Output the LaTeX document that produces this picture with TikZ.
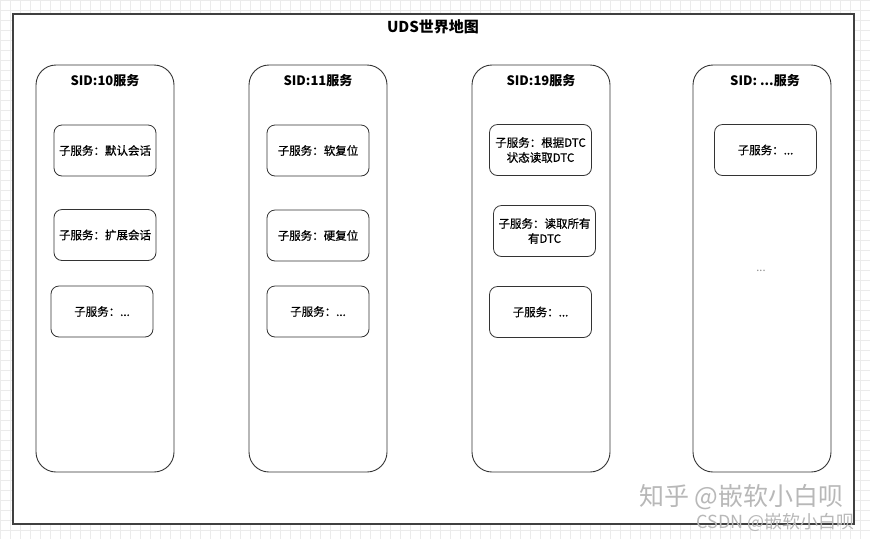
\documentclass[tikz,border=0pt]{standalone}
\usepackage{fontspec}
\setmainfont{Noto Sans CJK SC}
\newfontfamily\medfont{Noto Sans CJK SC}[FakeBold=0.7]
\begin{document}
\begin{tikzpicture}[x=1pt,y=-1pt,
  col/.style={draw=black!80, line width=0.9pt, rounded corners=20pt, minimum width=138pt, minimum height=407pt, inner sep=0pt},
  sub/.style={draw=black!80, line width=0.8pt, rounded corners=8pt, fill=white, minimum width=102pt, minimum height=51pt, inner sep=1pt, align=center, font=\medfont\fontsize{11.5}{15}\selectfont},
  coltitle/.style={font=\fontsize{13}{15}\selectfont\bfseries},
  wm/.style={text=black!28, inner sep=0pt}
]
\useasboundingbox (0,0) rectangle (870,539);
% background grid
\draw[black!8, line width=0.5pt, step=10pt] (0,0) grid (870,539);
% outer frame
\node[draw=black!75, line width=1.2pt, fill=white, minimum width=841pt, minimum height=510pt, inner sep=0pt] (frame) at (433.5,269) {};
\node[font=\fontsize{15}{17}\selectfont\bfseries] (title) at (433,27) {UDS世界地图};

% columns
\node[col] (c1) at (105,268.5) {};
\node[col] (c2) at (318,268.5) {};
\node[col] (c3) at (541,268.5) {};
\node[col] (c4) at (762,268.5) {};

\node[coltitle] (t1) at (105,81) {SID:10服务};
\node[coltitle] (t2) at (318,81) {SID:11服务};
\node[coltitle] (t3) at (541,81) {SID:19服务};
\node[coltitle] (t4) at (765,81) {SID: ...服务};

% column 1
\node[sub] (s11) at (105,150.5) {子服务：默认会话};
\node[sub] (s12) at (105,235) {子服务：扩展会话};
\node[sub] (s13) at (102,311.5) {子服务：...};
% column 2
\node[sub] (s21) at (318,150.5) {子服务：软复位};
\node[sub] (s22) at (318,235.5) {子服务：硬复位};
\node[sub] (s23) at (318,311.5) {子服务：...};
% column 3
\node[sub] (s31) at (540.5,150) {子服务：根据DTC\\状态读取DTC};
\node[sub] (s32) at (544.5,231) {子服务：读取所有\\有DTC};
\node[sub] (s33) at (540.5,312) {子服务：...};
% column 4
\node[sub] (s41) at (765.5,150) {子服务：...};
\node[text=black!45, font=\fontsize{11}{12}\selectfont] (dots4) at (761,271) {...};

% watermarks
\node[wm, anchor=west, font=\fontsize{25}{27}\selectfont] (wm1) at (639,497) {知乎 @嵌软小白呗};
\node[wm, anchor=east, font=\fontsize{18}{20}\selectfont] (wm2) at (855,522) {CSDN @嵌软小白呗};
\end{tikzpicture}
\end{document}
